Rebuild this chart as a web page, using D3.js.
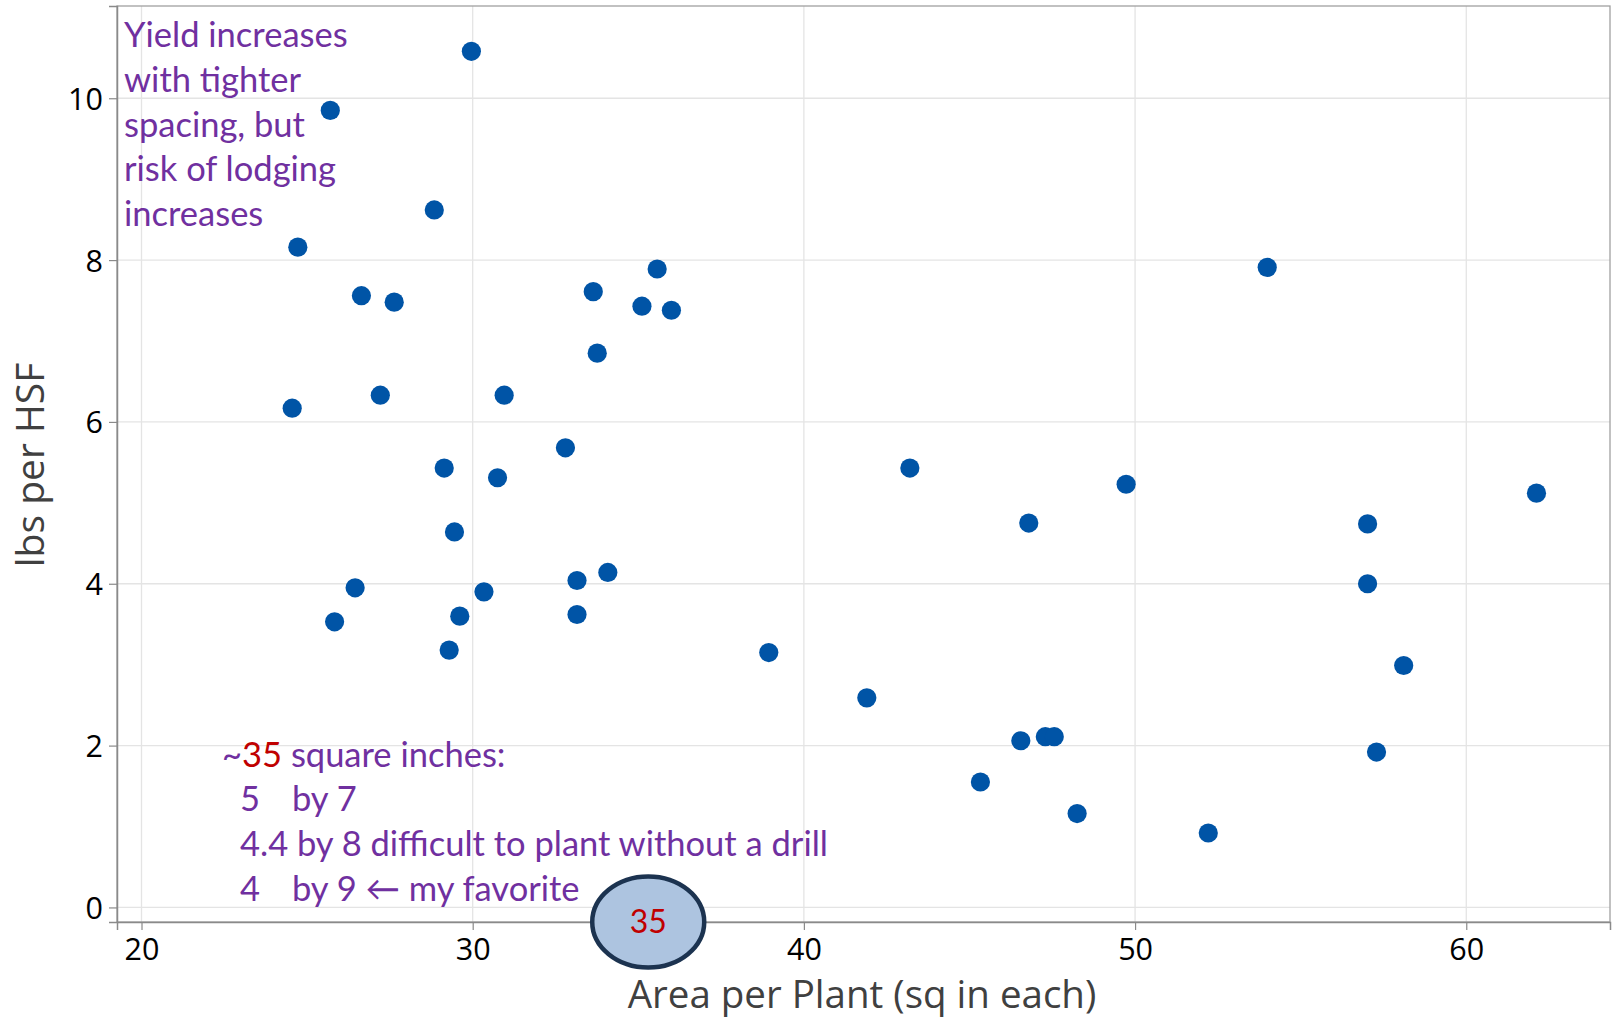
<!DOCTYPE html>
<html>
<head>
<meta charset="utf-8">
<script src="https://cdn.jsdelivr.net/npm/d3@7"></script>
<style>
  html, body { margin: 0; padding: 0; background: #fff; }
  svg { display: block; }
</style>
</head>
<body>
<svg id="chart" width="1614" height="1020"></svg>
<script>
// ---- data ----
const areaPerPlant = [29.96, 25.70, 28.84, 24.72, 26.64, 27.63, 35.57, 33.64, 35.11, 36.00,
                      33.76, 27.21, 30.95, 24.55, 32.80, 29.14, 30.75, 29.45, 34.08, 33.15,
                      26.45, 30.34, 25.83, 29.61, 33.15, 29.29, 38.94, 43.20, 41.90, 46.79,
                      49.73, 46.55, 47.29, 47.56, 45.33, 48.25, 52.21, 53.99, 62.12, 57.02,
                      57.02, 58.11, 57.29];
const lbsPerHSF = [10.58, 9.85, 8.62, 8.16, 7.56, 7.48, 7.89, 7.61, 7.43, 7.38,
                   6.85, 6.33, 6.33, 6.17, 5.68, 5.43, 5.31, 4.64, 4.14, 4.04,
                   3.95, 3.90, 3.53, 3.60, 3.62, 3.18, 3.15, 5.43, 2.59, 4.75,
                   5.23, 2.06, 2.11, 2.11, 1.55, 1.16, 0.92, 7.91, 5.12, 4.74,
                   4.00, 2.99, 1.92];
const xTicks = [20, 30, 40, 50, 60];
const yTicks = [0, 2, 4, 6, 8, 10];
const xTitle = "Area per Plant (sq in each)";
const yTitle = "lbs per HSF";
const noteTop = ["Yield increases", "with tighter", "spacing, but", "risk of lodging", "increases"];
const highlightValue = 35;

// ---- layout ----
const W = 1614, H = 1020;
const m = { left: 117, top: 6, right: 4, bottom: 98 };
const pw = W - m.left - m.right, ph = H - m.top - m.bottom;

const x = d3.scaleLinear().domain([19.26, 64.34]).range([0, pw]);
const y = d3.scaleLinear().domain([-0.18, 11.14]).range([ph, 0]);

const svg = d3.select("#chart");
const g = svg.append("g").attr("transform", `translate(${m.left},${m.top})`);

const axisFont = "'Open Sans', 'Noto Sans', sans-serif";
const noteFont = "Lato, 'Open Sans', sans-serif";
const purple = "#7030A0", red = "#C00000";

// gridlines
g.append("g").selectAll("line.gx").data(xTicks).join("line")
  .attr("x1", d => x(d)).attr("x2", d => x(d)).attr("y1", 0).attr("y2", ph)
  .attr("stroke", "#e4e4e4").attr("stroke-width", 1.3);
g.append("g").selectAll("line.gy").data(yTicks).join("line")
  .attr("x1", 0).attr("x2", pw).attr("y1", d => y(d)).attr("y2", d => y(d))
  .attr("stroke", "#e4e4e4").attr("stroke-width", 1.3);

// frame
g.append("rect").attr("x", 0).attr("y", 0).attr("width", pw).attr("height", ph)
  .attr("fill", "none").attr("stroke", "#a0a0a0").attr("stroke-width", 1.3);

// axes
const xAxis = g.append("g").attr("transform", `translate(0,${ph})`)
  .call(d3.axisBottom(x).tickValues(xTicks).tickSize(8).tickPadding(8).tickFormat(d3.format("d")));
const yAxis = g.append("g")
  .call(d3.axisLeft(y).tickValues(yTicks).tickSize(8).tickPadding(6).tickFormat(d3.format("d")));
[xAxis, yAxis].forEach(a => {
  a.select(".domain").attr("stroke", "#8a8a8a").attr("stroke-width", 1.5);
  a.selectAll(".tick line").attr("stroke", "#8a8a8a").attr("stroke-width", 1.2);
  a.selectAll(".tick text").attr("fill", "#000").style("font-family", axisFont)
    .style("font-size", "30.5px").style("font-weight", 500);
});
yAxis.selectAll(".tick text").attr("dy", "0.36em");

// points
g.append("g").selectAll("circle").data(areaPerPlant.map((v, i) => [v, lbsPerHSF[i]])).join("circle")
  .attr("cx", d => x(d[0])).attr("cy", d => y(d[1])).attr("r", 9.6)
  .attr("fill", "#0054A6");

// axis titles
svg.append("text").attr("x", 862).attr("y", 1008).attr("text-anchor", "middle")
  .attr("fill", "#404040").style("font-family", axisFont).style("font-size", "38.5px")
  .text(xTitle);
svg.append("text").attr("transform", "translate(44,465) rotate(-90)").attr("text-anchor", "middle")
  .attr("fill", "#404040").style("font-family", axisFont).style("font-size", "39px")
  .text(yTitle);

// top-left annotation
const nt = svg.append("text").attr("fill", purple).style("font-family", noteFont).style("font-size", "34.5px");
noteTop.forEach((s, i) => nt.append("tspan").attr("x", 124).attr("y", 47 + i * 44.8).text(s));

// bottom annotation
const nb = svg.append("g").attr("fill", purple).style("font-family", noteFont).style("font-size", "34.5px");
const l1 = nb.append("text").attr("x", 222).attr("y", 767);
l1.append("tspan").text("~");
l1.append("tspan").attr("fill", red).text(String(highlightValue));
l1.append("tspan").text(" square inches:");
nb.append("text").attr("x", 240).attr("y", 811).text("5");
nb.append("text").attr("x", 292).attr("y", 811).text("by 7");
nb.append("text").attr("x", 240).attr("y", 856).text("4.4 by 8 difficult to plant without a drill");
nb.append("text").attr("x", 240).attr("y", 901).text("4");
nb.append("text").attr("x", 292).attr("y", 901).text("by 9 \u2190 my favorite");

// highlight ellipse at 35
const cx = m.left + x(highlightValue + 0.3), cy = m.top + y(-0.18);
svg.append("ellipse").attr("cx", cx).attr("cy", cy).attr("rx", 56).attr("ry", 45.5)
  .attr("fill", "#ADC4E0").attr("stroke", "#1C3350").attr("stroke-width", 4.5);
svg.append("text").attr("x", cx).attr("y", cy).attr("dy", "0.35em").attr("text-anchor", "middle")
  .attr("fill", red).style("font-family", noteFont).style("font-size", "32px").text(String(highlightValue));
</script>
</body>
</html>
